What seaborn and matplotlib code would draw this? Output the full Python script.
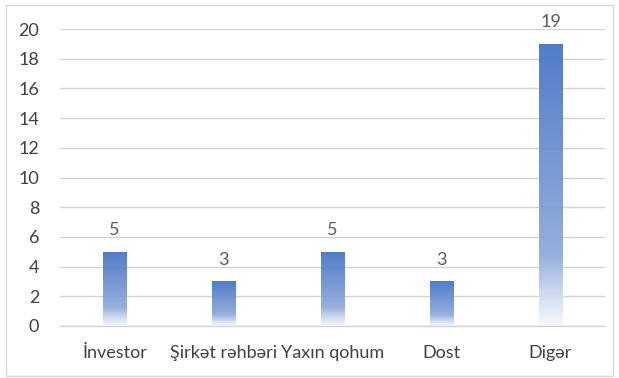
import numpy as np
import pandas as pd
import matplotlib
matplotlib.use("Agg")
import matplotlib.pyplot as plt
import seaborn as sns
from matplotlib.colors import LinearSegmentedColormap
from matplotlib.patches import Rectangle

categories = ["İnvestor", "Şirkət rəhbəri", "Yaxın qohum", "Dost", "Digər"]
values = [5, 3, 5, 3, 19]
y_ticks = [0, 2, 4, 6, 8, 10, 12, 14, 16, 18, 20]

sns.set_theme(style="white")
plt.rcParams["font.family"] = ["Lato", "DejaVu Sans"]

df = pd.DataFrame({"category": categories, "value": values})

fig = plt.figure(figsize=(6.19, 3.78), dpi=100)
ax = fig.add_axes([60 / 619, 1 - 326 / 378, 545 / 619, 297 / 378])

sns.barplot(data=df, x="category", y="value", ax=ax, width=0.22,
            color="#4472C4", saturation=1, zorder=2)

ax.set_ylim(0, 20)
ax.set_xlim(-0.5, len(categories) - 0.5)
ax.set_yticks(y_ticks)
ax.grid(axis="y", color="#d4d4d4", linewidth=1.0, zorder=0)
ax.set_axisbelow(True)
for side in ["top", "right", "left"]:
    ax.spines[side].set_visible(False)
ax.spines["bottom"].set_color("#d4d4d4")
ax.spines["bottom"].set_linewidth(1.0)
ax.set_xlabel("")
ax.set_ylabel("")
ax.tick_params(axis="both", length=0, labelsize=13, colors="#404040")
ax.tick_params(axis="y", pad=15)
ax.tick_params(axis="x", pad=14)

# vertical gradient fill for each bar: deep blue on top fading to white at the base
cmap = LinearSegmentedColormap.from_list(
    "bar_fade",
    [(0.0, "#F7F9FD"), (0.12, "#C9D6EE"), (0.25, "#8EA9DB"), (1.0, "#4472C4")])
grad = np.linspace(0, 1, 256).reshape(-1, 1)
for patch in ax.patches:
    x0, y0 = patch.get_x(), patch.get_y()
    w, h = patch.get_width(), patch.get_height()
    patch.set_facecolor("none")
    patch.set_edgecolor("none")
    im = ax.imshow(grad, cmap=cmap, origin="lower", aspect="auto",
                   extent=(x0, x0 + w, y0, y0 + h), zorder=2, alpha=0.93)
    im.set_clip_path(patch)
    ax.text(x0 + w / 2, y0 + h + 1.45, f"{int(round(h))}", ha="center",
            va="center", fontsize=13, color="#595959")

ax.set_xlim(-0.5, len(categories) - 0.5)
ax.set_ylim(0, 20)

fig.patches.append(Rectangle((6 / 619, 1 - 376 / 378), 607 / 619, 371 / 378,
                             transform=fig.transFigure, fill=False,
                             edgecolor="#d9d9d9", linewidth=1.0))

fig.savefig("out.png", dpi=100)
